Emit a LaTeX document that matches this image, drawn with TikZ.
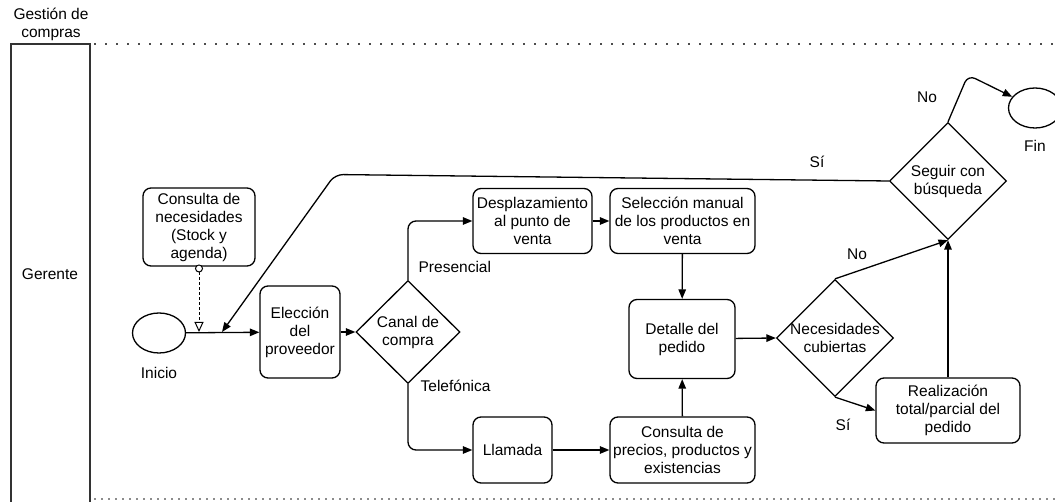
\documentclass[tikz,border=0pt]{standalone}
\usepackage{fontspec}
\setmainfont{Liberation Sans}
\usetikzlibrary{shapes.geometric,arrows.meta}
\begin{document}
\begin{tikzpicture}[x=1pt,y=-1pt,
  font=\fontsize{15.5}{18}\selectfont,
  line width=1.3pt,
  task/.style={draw, rounded corners=8pt, align=center, inner sep=0pt},
  gate/.style={draw, diamond, inner sep=0pt, minimum width=117pt, minimum height=117pt},
  event/.style={draw, ellipse, inner sep=0pt, minimum width=53pt, minimum height=40pt},
  flow/.style={-{Triangle[length=9.5pt,width=7.5pt]}, rounded corners=8pt},
  assoc/.style={densely dashed, line width=1pt, -{Triangle[open,length=10pt,width=9pt]}},
  lbl/.style={inner sep=0pt, align=center},
  lanedots/.style={dash pattern=on 2pt off 9pt, line width=2pt, draw=black!70}
]
\useasboundingbox (0,0) rectangle (1055,502);
\clip (0,0) rectangle (1055,502);

% pool / lane header
\node[lbl] (pool) at (51,24) {Gestión de\\compras};
\draw[draw=black!80] (11,506) -- (11,44) -- (90,44) -- (90,506);
\node[lbl] (lane) at (50,274) {Gerente};
\draw[lanedots] (94,44) -- (1055,44);
\draw[lanedots, draw=black!45, dash pattern=on 1.5pt off 5.5pt, line width=1.5pt] (94,499) -- (1055,499);

% events
\node[event] (inicio) at (159,333) {};
\node[lbl] at (159,373) {Inicio};
\node[event] (fin) at (1035,108) {};
\node[lbl] at (1035,146) {Fin};

% tasks
\node[task, minimum width=112pt, minimum height=78pt] (cnec) at (199,227) {Consulta de\\necesidades\\(Stock y\\agenda)};
\node[task, minimum width=80pt, minimum height=92pt] (elec) at (300,332) {Elección\\del\\proveedor};
\node[task, minimum width=119pt, minimum height=65pt] (desp) at (532.5,221) {Desplazamiento\\al punto de\\venta};
\node[task, minimum width=145pt, minimum height=65pt] (sel) at (682.5,221) {Selección manual\\de los productos en\\venta};
\node[task, minimum width=106pt, minimum height=79pt] (det) at (682,339) {Detalle del\\pedido};
\node[task, minimum width=79pt, minimum height=66pt] (llam) at (512.5,450) {Llamada};
\node[task, minimum width=145pt, minimum height=66pt] (cons) at (682.5,450) {Consulta de\\precios, productos y\\existencias};
\node[task, minimum width=144pt, minimum height=65pt] (real) at (948,410.5) {Realización\\total/parcial del\\pedido};

% gateways
\node[gate, minimum width=104pt, minimum height=103pt] (canal) at (408,332) {};
\node[lbl] at (canal) {Canal de\\compra};
\node[gate] (nec) at (835,338) {};
\node[lbl] at (nec) {Necesidades\\cubiertas};
\node[gate] (seg) at (948,181) {};
\node[lbl] at (seg) {Seguir con\\búsqueda};

% association from the data check to the start flow
\node[draw, circle, inner sep=0pt, minimum size=7pt, fill=white, line width=1pt] (adot) at (199,268.5) {};
\coordinate (ajoin) at (199,332);
\draw[assoc] (adot) -- (ajoin);

% sequence flows
\draw[flow] (inicio) -- (elec);
\draw[flow] (elec) -- (canal.west);
\draw[flow] (canal.north) |- (desp.west);
\draw[flow] (canal.south) |- (llam.west);
\draw[flow] (desp) -- (sel);
\draw[flow] (sel) -- (det);
\draw[flow] (llam) -- (cons);
\draw[flow] (cons) -- (det);
\draw[flow] (det) -- (nec.west);
\draw[flow] (nec.north) -- (seg.south);
\draw[flow] (nec.south) -- (real.west);
\draw[flow] (real.north) -- (seg.south);
\coordinate (loopend) at (222,332);
\draw[flow] (seg.west) -- (335,174.5) -- (loopend);
\draw[flow] (seg.north) -- (968,75) -- (fin);

% flow labels
\node[lbl, anchor=west] at (418,267) {Presencial};
\node[lbl, anchor=west] at (420,386) {Telefónica};
\node[lbl] at (857,254) {No};
\node[lbl] at (843,425) {Sí};
\node[lbl] at (817,162) {Sí};
\node[lbl] at (927,97) {No};
\end{tikzpicture}
\end{document}
